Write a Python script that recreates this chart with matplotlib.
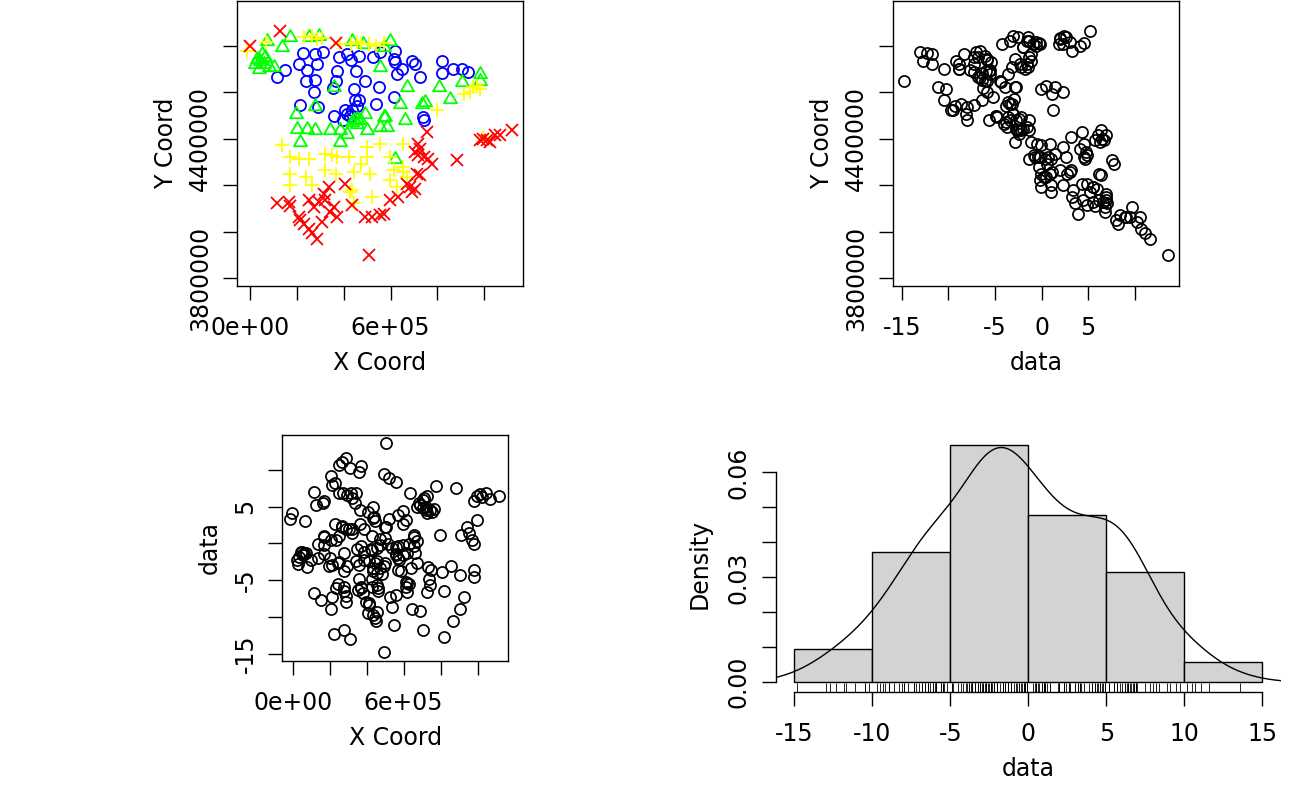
import numpy as np
import matplotlib
matplotlib.use("Agg")
import matplotlib.pyplot as plt
from matplotlib.path import Path
import matplotlib.transforms as mtransforms

plt.rcParams['font.family'] = ['DejaVu Sans']
plt.rcParams['font.size'] = 17
plt.rcParams['axes.unicode_minus'] = False

# ---------------- data (coordinates in km, data values) ----------------
# 1st quartile (blue circles)
blue_x = [113, 151, 208, 225, 244, 279, 286, 312, 237, 279, 275, 215, 291, 372, 379,
          369, 415, 429, 464, 454, 493, 443, 358, 407, 415, 450, 464, 457, 397, 526,
          550, 536, 557, 620, 613, 620, 648, 627, 691, 705, 724, 613, 819, 819, 869,
          905, 929, 738, 741, 436, 427, 353]
blue_y = [4667, 4695, 4721, 4767, 4695, 4764, 4721, 4771, 4650, 4653, 4600, 4545, 4538, 4693, 4753,
          4650, 4764, 4738, 4757, 4690, 4647, 4614, 4499, 4524, 4507, 4564, 4564, 4542, 4478, 4750,
          4624, 4550, 4771, 4778, 4743, 4728, 4700, 4678, 4736, 4721, 4664, 4578, 4736, 4681, 4700,
          4700, 4685, 4492, 4478, 4521, 4499, 4618]
blue_d = [-6.8, -7.7, -8.9, -12.3, -5.5, -11.7, -7.2, -13.0, -6.1, -6.4, -5.9, -7.3, -8.0, -6.0, -6.8,
          -5.9, -8.3, -5.9, -6.1, -5.6, -14.8, -10.2, -4.9, -9.5, -8.1, -10.5, -6.4, -9.3, -8.0, -7.3,
          -11.1, -8.6, -7.0, -6.6, -5.9, -5.4, -8.9, -5.5, -9.2, -11.8, -6.6, -5.2, -12.7, -6.4, -10.5,
          -8.9, -7.3, -4.8, -5.6, -9.7, -4.9, -6.3]

# 2nd quartile (green triangles)
green_x = [73, 137, 172, 251, 293, 51, 30, 23, 37, 58, 80, 101, 358, 279, 194,
           201, 244, 279, 343, 386, 215, 386, 415, 436, 443, 457, 493, 500, 557, 571,
           557, 598, 570, 670, 641, 734, 748, 805, 855, 905, 983, 983, 577, 662, 584,
           620, 484, 43, 456, 436, 64, 470]
green_y = [4821, 4793, 4836, 4836, 4843, 4764, 4743, 4721, 4700, 4721, 4707, 4707, 4621, 4542, 4507,
           4442, 4442, 4435, 4435, 4435, 4385, 4385, 4421, 4821, 4478, 4485, 4507, 4435, 4707, 4492,
           4449, 4821, 4793, 4621, 4550, 4550, 4557, 4621, 4571, 4642, 4678, 4650, 4492, 4478, 4449,
           4313, 4807, 4736, 4464, 4471, 4750, 4478]
green_d = [-1.3, -2.0, -1.5, -2.5, -3.1, -1.1, -2.8, -2.3, -1.8, -1.6, -3.2, -2.2, -2.9, -3.8, -3.1,
           -2.0, -2.7, -1.3, -2.4, -2.2, -2.9, -1.1, -2.4, -3.4, -2.7, -2.4, -3.1, -2.6, -1.5, -3.6,
           -1.6, -1.6, -2.0, -2.7, -3.4, -3.2, -3.6, -3.9, -3.0, -4.3, -3.6, -4.5, -2.2, -1.3, -3.7,
           -1.3, -4.2, -1.1, -4.0, -3.8, -1.3, -3.4]

# 3rd quartile (yellow plus)
yellow_x = [-13, 66, 229, 265, 286, 386, 429, 472, 507, 536, 570, 137, 172, 208, 251,
            322, 372, 422, 472, 500, 172, 237, 265, 172, 322, 365, 443, 514, 557, 436,
            521, 798, 940, 954, 969, 983, 997, 655, 598, 613, 655, 670, 598, 627, 442,
            427, 306, 456, 349, 655, 912, 499]
yellow_y = [4778, 4814, 4836, 4843, 4828, 4807, 4807, 4807, 4807, 4800, 4810, 4371, 4321, 4313, 4313,
            4335, 4321, 4321, 4292, 4364, 4249, 4235, 4199, 4199, 4263, 4249, 4256, 4249, 4378, 4178,
            4149, 4521, 4600, 4621, 4628, 4614, 4406, 4378, 4321, 4263, 4256, 4235, 4220, 4192, 4123,
            4170, 4833, 4814, 4328, 4278, 4592, 4321]
yellow_d = [3.3, 3.0, 2.6, 2.4, 2.0, 1.9, -0.9, -0.2, 2.3, -0.6, -0.3, -0.1, -0.2, 0.4, 1.0,
            1.4, -0.4, -0.7, 0.6, 2.3, 0.9, 0.5, 2.3, 1.0, 2.0, 2.7, 3.0, -0.1, -0.5, 3.4,
            3.3, 1.2, 2.3, 1.4, 0.5, -0.1, 3.2, 0.9, 2.6, 3.2, 1.1, 0.3, -0.2, -0.1, 3.6,
            1.0, 2.0, -0.6, -0.8, -0.3, 1.1, 0.7]

# 4th quartile (red crosses)
red_x = [-1, 127, 365, 113, 165, 172, 208, 215, 229, 251, 272, 293, 315, 336, 322,
         343, 358, 372, 407, 436, 251, 265, 286, 308, 507, 493, 521, 557, 755, 719,
         727, 705, 719, 741, 762, 776, 883, 997, 1011, 1026, 1047, 1068, 1118, 983, 712,
         727, 670, 684, 691, 705, 634, 598, 570]
red_y = [4800, 4861, 4810, 4123, 4128, 4109, 4063, 4049, 4034, 4135, 4106, 4128, 4163, 4192, 4135,
         4085, 4106, 4063, 4206, 4113, 4013, 3992, 3970, 4042, 3899, 4063, 4063, 4070, 4428, 4378,
         4356, 4342, 4328, 4321, 4313, 4292, 4309, 4399, 4392, 4385, 4414, 4414, 4435, 4392, 4249,
         4242, 4206, 4192, 4170, 4185, 4149, 4135, 4077]
red_d = [4.1, 5.2, 4.6, 7.0, 5.5, 5.7, 9.1, 8.0, 8.2, 6.9, 6.8, 6.6, 6.9, 5.5, 6.2,
         6.8, 9.7, 10.5, 4.3, 4.9, 10.7, 11.1, 11.6, 10.2, 13.6, 9.5, 8.9, 8.4, 4.3, 4.5,
         4.1, 4.8, 4.9, 4.6, 4.7, 7.8, 7.5, 6.5, 6.7, 6.3, 6.9, 6.0, 6.4, 5.7, 6.2,
         6.4, 4.9, 5.5, 5.2, 5.9, 6.9, 4.4, 3.9]

hist_breaks = [-15, -10, -5, 0, 5, 10, 15]

coord_xticks = [0, 200000, 400000, 600000, 800000, 1000000]
coord_xlabels = ['0e+00', '', '', '6e+05', '', '']
coord_yticks = [3800000, 4000000, 4200000, 4400000, 4600000, 4800000]
coord_ylabels = ['3800000', '', '', '4400000', '', '']
data_ticks = [-15, -10, -5, 0, 5, 10]
data_xlabels_tr = ['-15', '', '-5', '0', '5', '']
data_ylabels_bl = ['-15', '', '-5', '', '5', '']
dens_ticks = [0.00, 0.01, 0.02, 0.03, 0.04, 0.05, 0.06]
dens_labels = ['0.00', '', '', '0.03', '', '', '0.06']

# ---------------- assemble ----------------
groups = [
    (blue_x, blue_y, blue_d),
    (green_x, green_y, green_d),
    (yellow_x, yellow_y, yellow_d),
    (red_x, red_y, red_d),
]
X = np.concatenate([np.array(g[0], float) * 1000 for g in groups])
Y = np.concatenate([np.array(g[1], float) * 1000 for g in groups])
D = np.concatenate([np.array(g[2], float) for g in groups])

W, H = 1312, 811
fig = plt.figure(figsize=(W / 100, H / 100), dpi=100)


def rect(l, t, r, b):
    return [l / W, (H - b) / H, (r - l) / W, (b - t) / H]


axTL = fig.add_axes(rect(237, 1, 523, 286))
axTR = fig.add_axes(rect(893, 1, 1179, 286))
axBL = fig.add_axes(rect(282.3, 435, 508.3, 660.7))
axBR = fig.add_axes(rect(775.6, 435.2, 1281, 691.7))

LW = 1.0


def style(ax, xlabel, ylabel, ylab_off, xlab_off=65):
    for s in ax.spines.values():
        s.set_linewidth(LW)
    ax.tick_params(axis='both', length=10.4, width=LW, direction='out')
    ax.tick_params(axis='x', pad=11.5)
    ax.tick_params(axis='y', pad=7.5, labelrotation=90)
    for lbl in ax.get_yticklabels():
        lbl.set_verticalalignment('center')
    ax.set_xlabel(xlabel)
    ax.set_ylabel(ylabel)
    ax.xaxis.set_label_coords(0.5, 0, transform=ax.transAxes +
                              mtransforms.ScaledTranslation(0, -xlab_off / 100, fig.dpi_scale_trans))
    ax.yaxis.set_label_coords(0, 0.5, transform=ax.transAxes +
                              mtransforms.ScaledTranslation(-ylab_off / 100, 0, fig.dpi_scale_trans))


# triangle marker (equilateral, centroid at the point)
tri = Path([(0, 1.1547), (-1, -0.5774), (1, -0.5774), (0, 1.1547)],
           [Path.MOVETO, Path.LINETO, Path.LINETO, Path.CLOSEPOLY])

coord_xlim = (-56000, 1166000)
coord_ylim = (3766000, 4992000)
dr = D.max() - D.min()
data_lim = (D.min() - 0.04 * dr, D.max() + 0.04 * dr)

# ---- top-left: locations coloured by quartile ----
ax = axTL
ax.plot(np.array(blue_x) * 1000, np.array(blue_y) * 1000, linestyle='none', marker='o',
        mfc='none', mec='#0000FF', ms=8.0, mew=1.3)
ax.plot(np.array(green_x) * 1000, np.array(green_y) * 1000, linestyle='none', marker=tri,
        mfc='none', mec='#00FF00', ms=10.8, mew=1.3)
ax.plot(np.array(yellow_x) * 1000, np.array(yellow_y) * 1000, linestyle='none', marker='+',
        color='#FFFF00', ms=9.8, mew=1.3)
ax.plot(np.array(red_x) * 1000, np.array(red_y) * 1000, linestyle='none', marker='x',
        color='#FF0000', ms=8.2, mew=1.3)
ax.set_xlim(coord_xlim)
ax.set_ylim(coord_ylim)
ax.set_xticks(coord_xticks, coord_xlabels)
ax.set_yticks(coord_yticks, coord_ylabels)
style(ax, 'X Coord', 'Y Coord', 59)

# ---- top-right: data vs Y coord ----
ax = axTR
ax.plot(D, Y, linestyle='none', marker='o', mfc='none', mec='black', ms=8.0, mew=1.25)
ax.set_xlim(data_lim)
ax.set_ylim(coord_ylim)
ax.set_xticks(data_ticks, data_xlabels_tr)
ax.set_yticks(coord_yticks, coord_ylabels)
style(ax, 'data', 'Y Coord', 59)

# ---- bottom-left: X coord vs data ----
ax = axBL
ax.plot(X, D, linestyle='none', marker='o', mfc='none', mec='black', ms=8.0, mew=1.25)
ax.set_xlim(coord_xlim)
ax.set_ylim(data_lim)
ax.set_xticks(coord_xticks, coord_xlabels)
ax.set_yticks(data_ticks, data_ylabels_bl)
style(ax, 'X Coord', 'data', 61)

# ---- bottom-right: histogram + density + rug ----
ax = axBR
counts, edges = np.histogram(D, bins=hist_breaks, density=True)
ax.hist(D, bins=hist_breaks, density=True, facecolor='#D3D3D3', edgecolor='black', linewidth=LW)
n = len(D)
sd = D.std(ddof=1)
q75, q25 = np.percentile(D, [75, 25])
bw = 0.9 * min(sd, (q75 - q25) / 1.34) * n ** -0.2
xs = np.linspace(D.min() - 3 * bw, D.max() + 3 * bw, 512)
dens = np.exp(-0.5 * ((xs[:, None] - D[None, :]) / bw) ** 2).sum(axis=1) / (n * bw * np.sqrt(2 * np.pi))
ax.plot(xs, dens, color='black', lw=1.0)
ax.vlines(D, 0, 0.033, transform=ax.get_xaxis_transform(), colors='black', lw=0.6)
ymax = counts.max()
ax.set_xlim(-16.2, 16.2)
ax.set_ylim(-0.04 * ymax, 1.04 * ymax)
ax.spines['left'].set_bounds(0, 0.06)
ax.spines['bottom'].set_bounds(-15, 15)
ax.set_xticks([-15, -10, -5, 0, 5, 10, 15], ['-15', '-10', '-5', '0', '5', '10', '15'])
ax.set_yticks(dens_ticks, dens_labels)
style(ax, 'data', 'Density', 64)
ax.spines['top'].set_visible(False)
ax.spines['right'].set_visible(False)

fig.savefig('out.png', dpi=100)
